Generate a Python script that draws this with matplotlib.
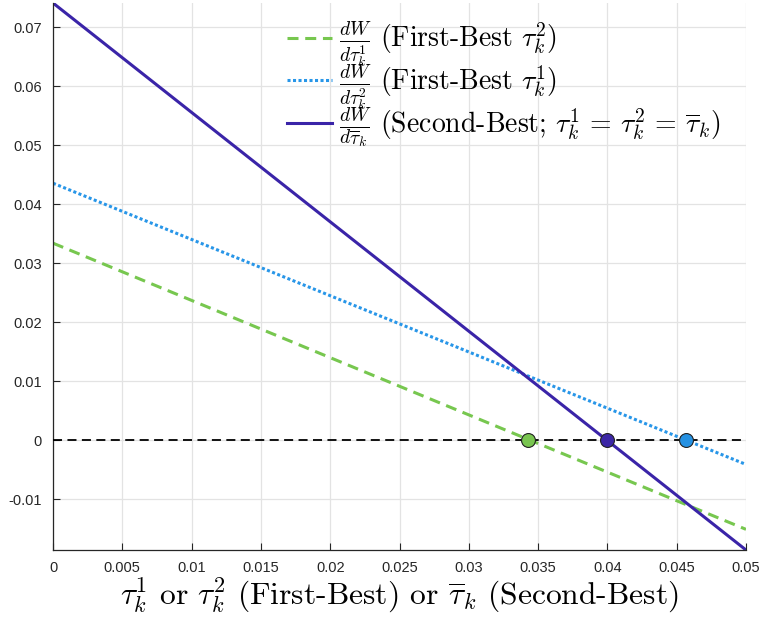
import numpy as np
import matplotlib
matplotlib.use("Agg")
import matplotlib.pyplot as plt

plt.rcParams['mathtext.fontset'] = 'cm'

# Data (endpoints of linear marginal welfare curves)
x_vals = [0.0, 0.05]
green_fb2 = [0.0334, -0.0151]     # dW/dtau^1 (First-Best tau^2)
blue_fb1 = [0.04356, -0.0041]     # dW/dtau^2 (First-Best tau^1)
purple_sb = [0.0741, -0.0186]     # dW/dtaubar (Second-Best)
roots = [0.03425, 0.03997, 0.04567]
root_colors = ['#79c550', '#3b26a6', '#2591e2']

xticks = [0, 0.005, 0.01, 0.015, 0.02, 0.025, 0.03, 0.035, 0.04, 0.045, 0.05]
xtick_labels = ['0', '0.005', '0.01', '0.015', '0.02', '0.025', '0.03', '0.035', '0.04', '0.045', '0.05']
yticks = [-0.01, 0, 0.01, 0.02, 0.03, 0.04, 0.05, 0.06, 0.07]
ytick_labels = ['-0.01', '0', '0.01', '0.02', '0.03', '0.04', '0.05', '0.06', '0.07']

c_green = '#77c74f'
c_blue = '#2896e8'
c_purple = '#3a24a8'

fig = plt.figure(figsize=(7.63, 6.19), dpi=100)
ax = fig.add_axes([53/763, 1-550/619, (746-53)/763, (550-3)/619])

ax.plot(x_vals, green_fb2, color=c_green, ls=(0, (3.6, 2.2)), lw=2.2,
        label=r'$\frac{dW}{d\tau^1_k}$ (First-Best $\tau_k^2$)')
ax.plot(x_vals, blue_fb1, color=c_blue, ls=(0, (1, 0.8)), lw=2.2,
        label=r'$\frac{dW}{d\tau^2_k}$ (First-Best $\tau_k^1$)')
ax.plot(x_vals, purple_sb, color=c_purple, ls='-', lw=2.2,
        label=r'$\frac{dW}{d\overline{\tau}_k}$ (Second-Best; $\tau_k^1\,=\,\tau_k^2\,=\,\overline{\tau}_k$)')
ax.axhline(0, color='black', ls=(0, (5, 3)), lw=1.3, zorder=3)
for r, c in zip(roots, root_colors):
    ax.plot([r], [0], 'o', ms=10, mfc=c, mec='#222222', mew=0.8, zorder=5)

ax.set_xlim(0, 0.05)
ax.set_ylim(-0.0186, 0.0741)
ax.set_xticks(xticks)
ax.set_xticklabels(xtick_labels)
ax.set_yticks(yticks)
ax.set_yticklabels(ytick_labels)
for lab in ax.get_xticklabels() + ax.get_yticklabels():
    lab.set_fontfamily('Liberation Sans')
    lab.set_fontsize(10.5)
    lab.set_color('#262626')
ax.tick_params(direction='in', length=5, color='#262626', pad=8)
ax.grid(True, color='#e3e3e3', lw=0.9)
ax.set_axisbelow(True)
for s in ['top', 'right']:
    ax.spines[s].set_visible(False)
for s in ['left', 'bottom']:
    ax.spines[s].set_color('#262626')
    ax.spines[s].set_linewidth(0.9)

ax.set_xlabel(r'$\tau_k^1$ or $\tau_k^2$ (First-Best) or $\overline{\tau}_k$ (Second-Best)',
              fontfamily='cmr10', fontsize=22.7, labelpad=0)
leg = ax.legend(loc='upper left', bbox_to_anchor=(0.313, 1.0), frameon=False,
                prop={'family': 'cmr10', 'size': 20}, handlelength=1.65,
                handletextpad=0.25, labelspacing=-0.27, borderaxespad=0.2)

fig.savefig('out.png', dpi=100)
